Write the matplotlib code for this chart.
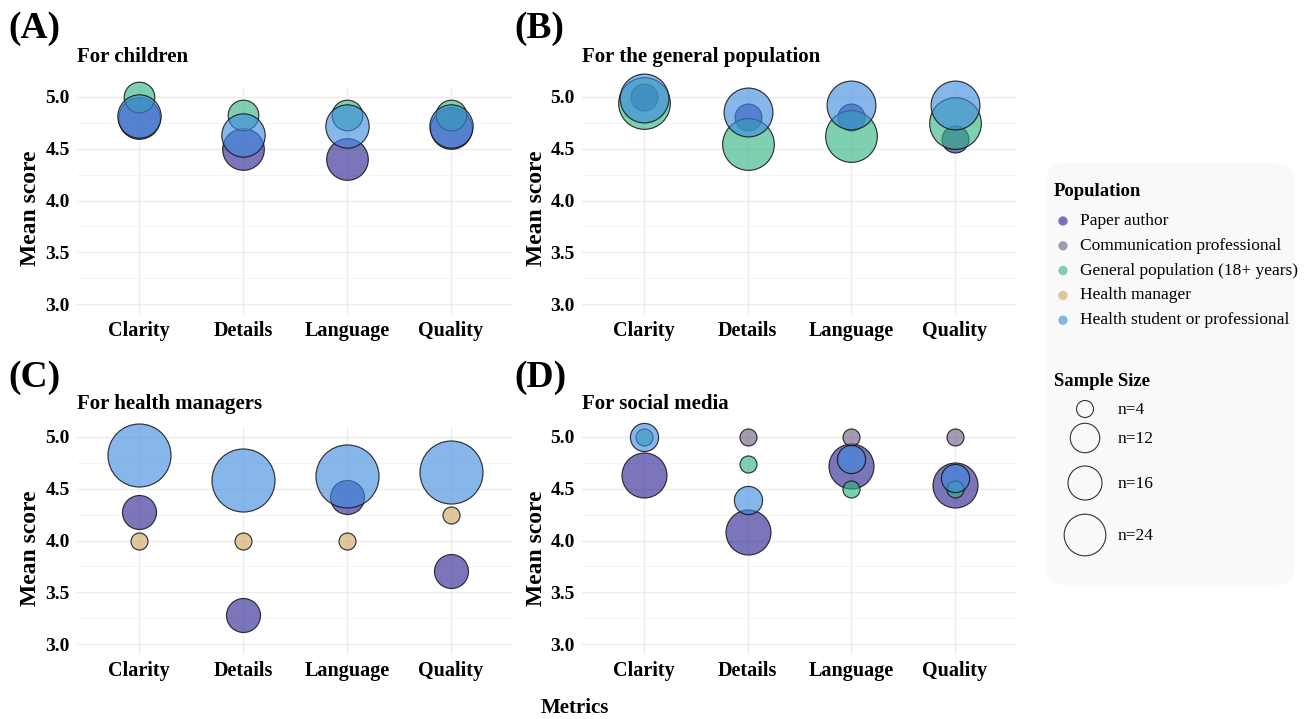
import numpy as np
import matplotlib
matplotlib.use("Agg")
import matplotlib.pyplot as plt
from matplotlib.patches import FancyBboxPatch
from matplotlib.colors import to_rgba

plt.rcParams["font.family"] = ["Liberation Serif", "DejaVu Serif"]

# ---------------- data ----------------
metrics = ["Clarity", "Details", "Language", "Quality"]
populations = [
    "Paper author",
    "Communication professional",
    "General population (18+ years)",
    "Health manager",
    "Health student or professional",
]

# mean scores per population (Clarity, Details, Language, Quality)
children_means = {
    "Paper author": [4.80, 4.50, 4.40, 4.70],
    "General population (18+ years)": [5.00, 4.83, 4.83, 4.83],
    "Health student or professional": [4.82, 4.63, 4.72, 4.72],
}
children_n = {"Paper author": 24, "General population (18+ years)": 13,
              "Health student or professional": 26}

general_means = {
    "Paper author": [5.00, 4.81, 4.81, 4.59],
    "General population (18+ years)": [4.94, 4.55, 4.62, 4.75],
    "Health student or professional": [4.99, 4.85, 4.92, 4.92],
}
general_n = {"Paper author": 10, "General population (18+ years)": 37,
             "Health student or professional": 33}

managers_means = {
    "Paper author": [4.28, 3.28, 4.42, 3.71],
    "Health manager": [4.00, 4.00, 4.00, 4.25],
    "Health student or professional": [4.83, 4.58, 4.62, 4.66],
}
managers_n = {"Paper author": 16, "Health manager": 4,
              "Health student or professional": 55}

social_means = {
    "Paper author": [4.63, 4.08, 4.72, 4.54],
    "Communication professional": [None, 5.00, 5.00, 5.00],
    "General population (18+ years)": [5.00, 4.74, 4.50, 4.50],
    "Health student or professional": [5.00, 4.39, 4.79, 4.60],
}
social_n = {"Paper author": 28, "Communication professional": 4,
            "General population (18+ years)": 4,
            "Health student or professional": 11}

panel_tags = ["(A)", "(B)", "(C)", "(D)"]
panel_titles = ["For children", "For the general population",
                "For health managers", "For social media"]
y_ticks = [3.0, 3.5, 4.0, 4.5, 5.0]
size_breaks = [4, 12, 16, 24]

# ---------------- style ----------------
pop_colors = {
    "Paper author": "#2a2090",
    "Communication professional": "#6e5f85",
    "General population (18+ years)": "#30b482",
    "Health manager": "#cfa55a",
    "Health student or professional": "#3e8adf",
}
ALPHA = 0.62
EDGE = (0.08, 0.08, 0.08, 0.85)

W, H = 1309, 719
fig = plt.figure(figsize=(W / 100, H / 100), dpi=100)


def diam_px(n):
    return 8.5 * np.sqrt(n)


def marker_area(n):
    return (diam_px(n) * 72 / 100) ** 2


def add_px_axes(l, t, r, b):
    return fig.add_axes([l / W, 1 - b / H, (r - l) / W, (b - t) / H])


panels = [
    (children_means, children_n, (76.6, 86.6, 513.4, 314.4)),
    (general_means, general_n, (581.8, 86.6, 1017.2, 314.4)),
    (managers_means, managers_n, (76.6, 426.6, 513.4, 654.4)),
    (social_means, social_n, (581.8, 426.6, 1017.2, 654.4)),
]

xpos = np.arange(1, len(metrics) + 1)
for i, (means, ns, box) in enumerate(panels):
    ax = add_px_axes(*box)
    ax.set_xlim(0.4, 4.6)
    ax.set_ylim(2.9, 5.1)
    for sp in ax.spines.values():
        sp.set_visible(False)
    for yv in np.arange(3.25, 5.0, 0.5):
        ax.axhline(yv, color="#f0f0f0", lw=0.5, zorder=0)
    for yv in y_ticks:
        ax.axhline(yv, color="#ebebeb", lw=1.0, zorder=0)
    for xv in xpos:
        ax.axvline(xv, color="#ebebeb", lw=1.0, zorder=0)

    for pop in populations:
        if pop not in means:
            continue
        vals = means[pop]
        xs = [x for x, v in zip(xpos, vals) if v is not None]
        ys = [v for v in vals if v is not None]
        fc = to_rgba(pop_colors[pop], ALPHA)
        ax.scatter(xs, ys, s=marker_area(ns[pop]), facecolors=[fc],
                   edgecolors=[EDGE], linewidths=0.85, zorder=3,
                   clip_on=False)

    ax.set_xticks(xpos)
    ax.set_xticklabels(metrics, fontsize=14.5, fontweight="bold")
    ax.set_yticks(y_ticks)
    ax.set_yticklabels([f"{v:.1f}" for v in y_ticks], fontsize=14,
                       fontweight="bold")
    ax.tick_params(length=0, pad=5)

    l, t, r, b = box
    top_row = t < 200
    fig.text((30 if l < 200 else 536) / W, 1 - (208 if top_row else 548) / H,
             "Mean score", rotation=90, fontsize=17, fontweight="bold",
             ha="center", va="center")
    fig.text(l / W, 1 - (57 if top_row else 404) / H,
             panel_titles[i], fontsize=15, fontweight="bold",
             ha="left", va="center")
    tag_x = 8 if l < 200 else 514
    tag_y = 28 if top_row else 378
    fig.text(tag_x / W, 1 - tag_y / H, panel_tags[i], fontsize=27,
             fontweight="bold", ha="left", va="center")

fig.text(575 / W, 1 - 708 / H, "Metrics", fontsize=15, fontweight="bold",
         ha="center", va="center")

# ---------------- legend ----------------
lg = fig.add_axes([0, 0, 1, 1])
lg.set_xlim(0, W)
lg.set_ylim(H, 0)
lg.axis("off")
lg.patch.set_alpha(0)

lg.add_patch(FancyBboxPatch((1046 + 20, 163 + 20), 249 - 40, 422 - 40,
                            boxstyle="round,pad=20", fc="#f9f9f9",
                            ec="none", zorder=0))
lg.text(1054, 192, "Population", fontsize=13.5, fontweight="bold",
        ha="left", va="center")
for k, pop in enumerate(populations):
    yy = 221 + k * 24.8
    lg.scatter([1063], [yy], s=45, facecolors=[to_rgba(pop_colors[pop], ALPHA)],
               edgecolors="none")
    lg.text(1080, yy, pop, fontsize=12.5, ha="left", va="center")

lg.text(1054, 382, "Sample Size", fontsize=13.5, fontweight="bold",
        ha="left", va="center")
size_rows = [409, 438, 483, 535]
for n, yy in zip(size_breaks, size_rows):
    lg.scatter([1085], [yy], s=marker_area(n), facecolors="none",
               edgecolors="#333333", linewidths=0.8)
    lg.text(1118, yy + 1, f"n={n}", fontsize=12.5, ha="left", va="center")

fig.savefig("out.png", dpi=100)
